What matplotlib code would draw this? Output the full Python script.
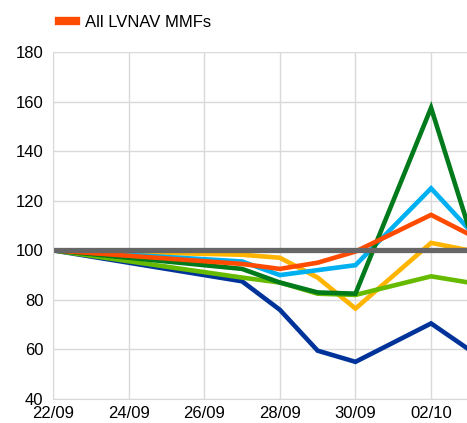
import numpy as np
import matplotlib
matplotlib.use("Agg")
import matplotlib.pyplot as plt
import matplotlib.dates as mdates
from matplotlib.lines import Line2D

plt.rcParams['font.family'] = ['Liberation Sans', 'DejaVu Sans']

dates = np.array(['2022-09-22', '2022-09-27', '2022-09-28', '2022-09-29',
                  '2022-09-30', '2022-10-02', '2022-10-03'], dtype='datetime64[D]')
tick_dates = np.array(['2022-09-22', '2022-09-24', '2022-09-26', '2022-09-28',
                       '2022-09-30', '2022-10-02'], dtype='datetime64[D]')
tick_labels = ['22/09', '24/09', '26/09', '28/09', '30/09', '02/10']

fund_a = [100, 87.5, 76, 59.5, 55, 70.5, 60]      # dark blue
fund_b = [100, 92.5, 87, 83, 82.5, 157.5, 109]    # dark green
fund_c = [100, 95.5, 90, 92, 94, 125, 108.5]      # cyan
fund_d = [100, 98.2, 97, 89, 76.5, 103, 100]      # amber
fund_e = [100, 89, 87, 82.5, 82, 89.5, 87]        # light green
all_lvnav = [100, 94.5, 92.5, 95, 99.5, 114.3, 106.5]
baseline = [100, 100, 100, 100, 100, 100, 100]

series = [
    (fund_a, '#003399', 3.3),
    (fund_d, '#FFB400', 3.3),
    (fund_e, '#66BB00', 3.3),
    (fund_c, '#00B0F0', 3.3),
    (fund_b, '#007A1A', 3.3),
    (all_lvnav, '#FF4B00', 3.3),
    (baseline, '#666666', 3.8),
]

x = [mdates.date2num(d.astype(object)) for d in dates]
x0 = mdates.date2num(dates[0].astype(object))

fig = plt.figure(figsize=(4.67, 4.23), dpi=100)
ax = fig.add_axes([0.1135, 0.0567, 0.8865, 0.8203])

for vals, col, lw in series:
    ax.plot(x, vals, color=col, lw=lw, solid_joinstyle='miter')

ax.set_ylim(40, 180)
ax.set_yticks(range(40, 181, 20))
ax.set_xlim(x0, x0 + 10.95)
ax.set_xticks([mdates.date2num(d.astype(object)) for d in tick_dates])
ax.set_xticklabels(tick_labels)

ax.grid(True, color='#D9D9D9', lw=1)
ax.set_axisbelow(True)
for s in ['top', 'right']:
    ax.spines[s].set_visible(False)
for s in ['left', 'bottom']:
    ax.spines[s].set_color('#D9D9D9')
ax.tick_params(length=0, labelsize=12, pad=7, colors='black')
ax.tick_params(axis='x', pad=5)

# only the aggregate series appears in the (cropped) legend
handle = Line2D([0], [0], color='#FF4B00', lw=6)
fig.legend([handle], ['All LVNAV MMFs'], loc='upper left',
           bbox_to_anchor=(0.095, 1.0), frameon=False, fontsize=12,
           handlelength=1.0, handletextpad=0.55)

fig.savefig('out.png', dpi=100)
